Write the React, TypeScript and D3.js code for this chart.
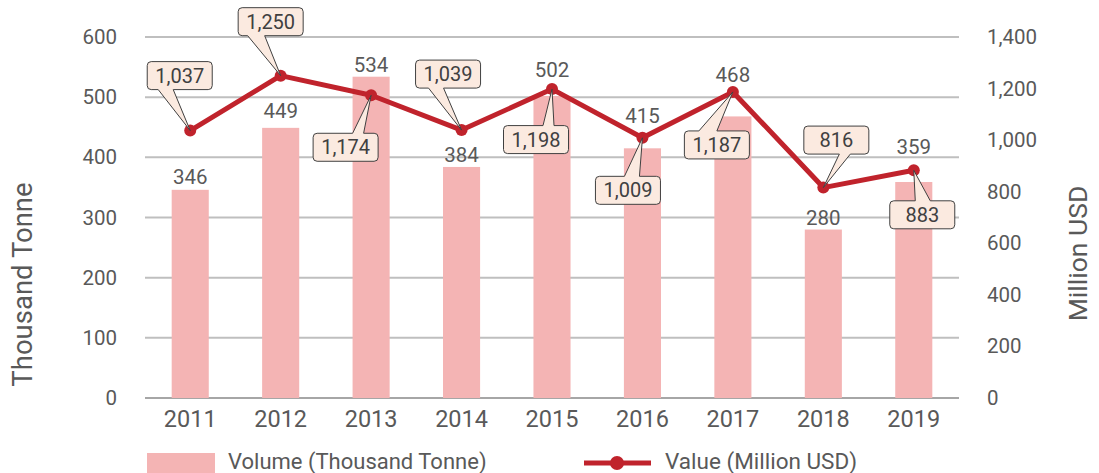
import React from "react";
import * as d3 from "d3";

const years = ["2011", "2012", "2013", "2014", "2015", "2016", "2017", "2018", "2019"];
const volume = [346, 449, 534, 384, 502, 415, 468, 280, 359];
const value = [1037, 1250, 1174, 1039, 1198, 1009, 1187, 816, 883];
const leftTicks = [0, 100, 200, 300, 400, 500, 600];
const rightTicks = [0, 200, 400, 600, 800, 1000, 1200, 1400];

// label layout (offsets relative to their mark)
const barLabelGap = [5.5, 9.5, 5, 5, 19, 25, 34, 5, 28];
const calloutOffset: [number, number][] = [
  [-10.5, -55], [-10, -54], [-25.5, 52], [-13.5, -56], [-16, 50.5],
  [-14.5, 52.5], [-16, 53], [13, -47.5], [8.5, 44.5],
];
const pointerBase: [number, number][] = [
  [-21.5, -6.5], [-23, -6], [7, 18], [-19.5, -4.5], [7, 18],
  [-3.5, 11.5], [-18, 0], [3, 14], [-7, 8],
];

const W = 1099;
const H = 473;
const FONT = "Roboto, 'DejaVu Sans', sans-serif";
const TEXT = "#595959";
const BAR = "#F4B4B4";
const LINE = "#C0232C";

function calloutPath(cx: number, cy: number, w: number, h: number, r: number, tx: number, ty: number, b1: number, b2: number) {
  const x0 = cx - w / 2, x1 = cx + w / 2, y0 = cy - h / 2, y1 = cy + h / 2;
  const below = ty > cy; // pointer on bottom edge
  const p: string[] = [];
  p.push(`M${x0 + r},${y0}`);
  if (!below) {
    p.push(`L${cx + b1},${y0}`, `L${tx},${ty}`, `L${cx + b2},${y0}`);
  }
  p.push(`L${x1 - r},${y0}`, `A${r},${r} 0 0 1 ${x1},${y0 + r}`);
  p.push(`L${x1},${y1 - r}`, `A${r},${r} 0 0 1 ${x1 - r},${y1}`);
  if (below) {
    p.push(`L${cx + b2},${y1}`, `L${tx},${ty}`, `L${cx + b1},${y1}`);
  }
  p.push(`L${x0 + r},${y1}`, `A${r},${r} 0 0 1 ${x0},${y1 - r}`);
  p.push(`L${x0},${y0 + r}`, `A${r},${r} 0 0 1 ${x0 + r},${y0}`, "Z");
  return p.join(" ");
}

export default function App() {
  const x = d3.scaleBand<string>().domain(years).range([145, 959]).padding(0);
  const yL = d3.scaleLinear().domain([0, 600]).range([398, 37]);
  const yR = d3.scaleLinear().domain([0, 1400]).range([398, 37]);
  const bw = x.bandwidth() * 0.41;
  const cxOf = (d: string) => (x(d) as number) + x.bandwidth() / 2;
  const fmt = d3.format(",");

  const lineGen = d3
    .line<number>()
    .x((_, i) => cxOf(years[i]))
    .y((v) => yR(v));

  return (
    <svg width={W} height={H} style={{ position: "absolute", left: 0, top: 0, background: "#fff" }} fontFamily={FONT}>
      {/* gridlines */}
      {leftTicks.map((t) => (
        <line key={t} x1={145} x2={959} y1={yL(t)} y2={yL(t)} stroke={t === 0 ? "#A6A6A6" : "#BFBFBF"} strokeWidth={2} />
      ))}
      {/* bars */}
      {years.map((yr, i) => (
        <rect key={yr} x={cxOf(yr) - bw / 2} y={yL(volume[i])} width={bw} height={yL(0) - yL(volume[i])} fill={BAR} />
      ))}
      {/* bar labels */}
      {years.map((yr, i) => (
        <text key={yr} x={cxOf(yr)} y={yL(volume[i]) - barLabelGap[i]} textAnchor="middle" fontSize={20.5} fill={TEXT}>
          {fmt(volume[i])}
        </text>
      ))}
      {/* left ticks */}
      {leftTicks.map((t) => (
        <text key={t} x={117} y={yL(t)} textAnchor="end" dominantBaseline="central" fontSize={20.5} fill={TEXT}>
          {fmt(t)}
        </text>
      ))}
      {/* right ticks */}
      {rightTicks.map((t) => (
        <text key={t} x={987} y={yR(t)} textAnchor="start" dominantBaseline="central" fontSize={20.5} fill={TEXT}>
          {fmt(t)}
        </text>
      ))}
      {/* x ticks */}
      {years.map((yr) => (
        <text key={yr} x={cxOf(yr)} y={427} textAnchor="middle" fontSize={23.5} fill={TEXT}>
          {yr}
        </text>
      ))}
      {/* axis titles */}
      <text transform={`translate(22.5,284.5) rotate(-90)`} textAnchor="middle" dominantBaseline="central" fontSize={27.5} fill={TEXT}>
        Thousand Tonne
      </text>
      <text transform={`translate(1077.5,253.5) rotate(-90)`} textAnchor="middle" dominantBaseline="central" fontSize={26.5} fill={TEXT}>
        Million USD
      </text>
      {/* line */}
      <path d={lineGen(value) as string} fill="none" stroke={LINE} strokeWidth={5} strokeLinejoin="round" />
      {value.map((v, i) => (
        <circle key={i} cx={cxOf(years[i])} cy={yR(v)} r={6} fill={LINE} />
      ))}
      {/* callouts */}
      {value.map((v, i) => {
        const tx = cxOf(years[i]);
        const ty = yR(v);
        const bcx = tx + calloutOffset[i][0];
        const bcy = ty + calloutOffset[i][1];
        return (
          <g key={i}>
            <path d={calloutPath(bcx, bcy, 65, 28, 4, tx, ty, pointerBase[i][0], pointerBase[i][1])} fill="#FBEAE0" stroke="#404040" strokeWidth={1} />
            <text x={bcx} y={bcy} textAnchor="middle" dominantBaseline="central" fontSize={20} fill="#404040">
              {fmt(v)}
            </text>
          </g>
        );
      })}
      {/* legend */}
      <rect x={147} y={453} width={68} height={22} fill={BAR} />
      <text x={228} y={461} dominantBaseline="central" fontSize={22} fill={TEXT}>
        Volume (Thousand Tonne)
      </text>
      <line x1={584} x2={651} y1={463} y2={463} stroke={LINE} strokeWidth={5} />
      <circle cx={617} cy={463} r={7} fill={LINE} />
      <text x={665} y={461} dominantBaseline="central" fontSize={22.5} fill={TEXT}>
        Value (Million USD)
      </text>
    </svg>
  );
}
